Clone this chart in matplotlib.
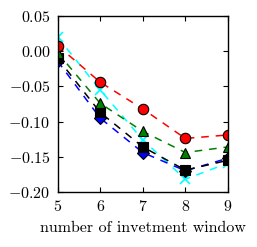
import numpy as np
import matplotlib
matplotlib.use("Agg")
import matplotlib.pyplot as plt

# data
windows = [5, 6, 7, 8, 9]
red_vals = [0.008, -0.044, -0.082, -0.124, -0.119]
green_vals = [-0.002, -0.074, -0.114, -0.144, -0.136]
black_vals = [-0.010, -0.087, -0.136, -0.169, -0.155]
blue_vals = [-0.014, -0.095, -0.144, -0.170, -0.152]
cyan_vals = [0.020, -0.055, -0.126, -0.182, -0.159]

plt.rcParams['font.family'] = 'serif'
plt.rcParams['font.serif'] = ['cmr10']
plt.rcParams['mathtext.fontset'] = 'cm'
plt.rcParams['axes.formatter.use_mathtext'] = True
plt.rcParams['font.size'] = 11.5

fig = plt.figure(figsize=(2.57, 2.47), dpi=100)
ax = fig.add_axes([0.224, 0.223, 0.663, 0.712])

dash = (5, 4.5)
ax.plot(windows, cyan_vals, '--', color='cyan', marker='x', ms=7, mew=1.2, lw=1.1, dashes=dash)
ax.plot(windows, blue_vals, '--', color='b', marker='D', ms=6.5, mec='k', mew=0.8, lw=1.1, dashes=dash)
ax.plot(windows, black_vals, '--', color='k', marker='s', ms=7, mec='k', mew=0.8, lw=1.1, dashes=dash)
ax.plot(windows, green_vals, '--', color='g', marker='^', ms=7.5, mec='k', mew=0.8, lw=1.1, dashes=dash)
ax.plot(windows, red_vals, '--', color='r', marker='o', ms=7.5, mec='k', mew=0.8, lw=1.1, dashes=dash)

ax.set_xlim(5, 9)
ax.set_ylim(-0.20, 0.05)
ax.set_xticks([5, 6, 7, 8, 9])
ax.set_yticks([-0.20, -0.15, -0.10, -0.05, 0.00, 0.05])
ax.yaxis.set_major_formatter(matplotlib.ticker.FuncFormatter(
    lambda v, p: '$%.2f$' % v if abs(v) > 1e-9 else '$0.00$'))
ax.xaxis.set_major_formatter(matplotlib.ticker.FuncFormatter(lambda v, p: '$%d$' % v))
ax.tick_params(direction='in', length=3.5, width=0.8, top=True, right=True, pad=5)
for s in ax.spines.values():
    s.set_linewidth(1)

ax.set_xlabel('number of invetment window', labelpad=5)

fig.savefig('out.png', dpi=100)
